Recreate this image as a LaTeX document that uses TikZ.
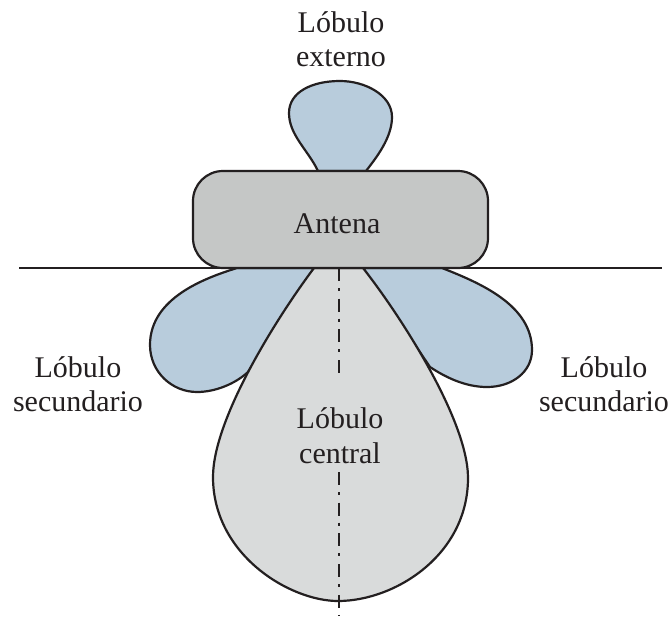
\documentclass[tikz,border=0pt]{standalone}
\usepackage{fontspec}
\setmainfont{Liberation Serif}
\definecolor{lobeblue}{RGB}{184,204,220}
\definecolor{lobegrey}{RGB}{217,219,219}
\definecolor{antgrey}{RGB}{197,199,198}
\definecolor{inkc}{RGB}{35,31,32}
\tikzset{
 px/.style={x=1pt,y=-1pt},
 outline/.style={draw=inkc,line width=2.2pt,line join=round},
 axisline/.style={draw=inkc,line width=2.2pt,dash pattern=on 13pt off 7pt on 3pt off 7.7pt},
 lbl/.style={font=\fontsize{30}{34.5}\selectfont,text=inkc,align=center,inner sep=0pt},
}
\begin{document}
\begin{tikzpicture}[px]
\useasboundingbox (0,0) rectangle (672,616);
\fill[white] (0,0) rectangle (672,616);
% top lobe
\path[outline,fill=lobeblue] (318,171) .. controls (308,150) and (289,135) .. (289,113) .. controls (289,92) and (312,81) .. (340,81) .. controls (365,81) and (392,95) .. (392,117) .. controls (392,138) and (376,158) .. (366,171) -- cycle;
% side lobes
\path[outline,fill=lobeblue] (237,268) .. controls (205,278) and (150,298) .. (150,345) .. controls (150,372) and (172,392) .. (197,392) .. controls (215,392) and (235,384) .. (248,372) -- (314,268) -- cycle;
\path[outline,fill=lobeblue] (442,268) .. controls (480,283) and (532,305) .. (532,350) .. controls (532,372) and (512,387) .. (487,387) .. controls (465,387) and (445,377) .. (430,367) -- (363,268) -- cycle;
% centre
\path[outline,fill=lobegrey] (314,268) .. controls (275,320) and (213,420) .. (213,477) .. controls (213,555) and (290,601) .. (338,601) .. controls (395,601) and (468,555) .. (468,478) .. controls (468,420) and (400,315) .. (363,268) -- cycle;
% antenna
\node[outline,fill=antgrey,rounded corners=30pt,minimum width=295pt,minimum height=97pt,inner sep=0pt] (antena) at (340.5,219.5) {};
\node[lbl] (antenalbl) at (337,224) {Antena};
\coordinate (gl) at (19,268); \coordinate (gr) at (662,268);
\draw[outline] (gl) -- (gr);
\coordinate (at) at (339,268); \coordinate (am) at (339,375);
\coordinate (an) at (339,472); \coordinate (ab) at (339,616);
\draw[axisline] (at) -- (am);
\draw[axisline] (an) -- (ab);
\node[lbl] (central) at (340,435.5) {Lóbulo\\central};
\node[lbl] (externo) at (341,39) {Lóbulo\\externo};
\node[lbl] (sl) at (78,384) {Lóbulo\\secundario};
\node[lbl] (sr) at (604,384) {Lóbulo\\secundario};
\end{tikzpicture}
\end{document}
